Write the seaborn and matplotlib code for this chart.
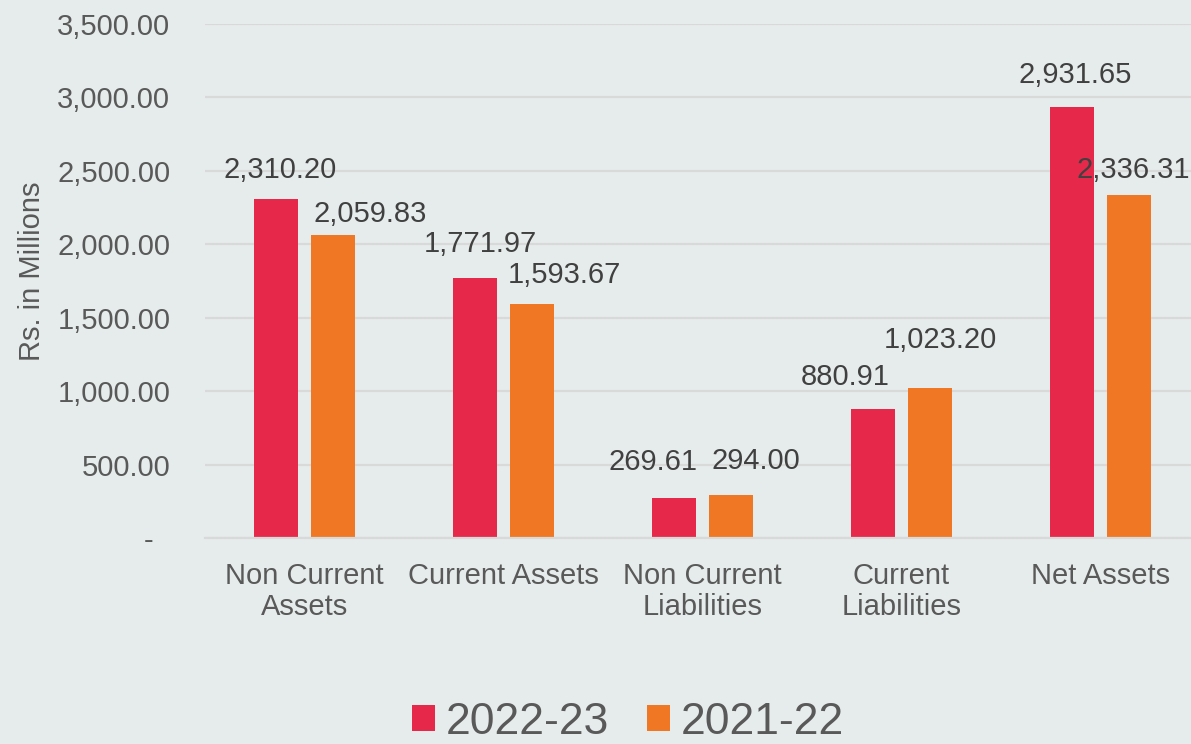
import matplotlib
matplotlib.use("Agg")
import matplotlib.pyplot as plt
import seaborn as sns
import pandas as pd
from matplotlib.patches import Patch
from matplotlib.ticker import FuncFormatter

categories = ["Non Current\nAssets", "Current Assets", "Non Current\nLiabilities",
              "Current\nLiabilities", "Net Assets"]
series_names = ["2022-23", "2021-22"]
values_2022_23 = [2310.20, 1771.97, 269.61, 880.91, 2931.65]
values_2021_22 = [2059.83, 1593.67, 294.00, 1023.20, 2336.31]
y_ticks = [0, 500, 1000, 1500, 2000, 2500, 3000, 3500]

colors = ["#E6294B", "#F07723"]
bg = "#E6ECEC"
tick_color = "#595959"
label_color = "#404040"

# label offsets in pixels (dx, dy) relative to bar top center
offsets_2022_23 = [(4, 29), (5, 34), (-21, 36), (-28, 32), (3, 32)]
offsets_2021_22 = [(37, 21), (33, 29), (25, 34), (11, 48), (4, 25)]

df = pd.DataFrame({
    "category": categories * 2,
    "year": [series_names[0]] * 5 + [series_names[1]] * 5,
    "value": values_2022_23 + values_2021_22,
})

sns.set_theme(style="white")
plt.rcParams["font.family"] = ["Liberation Sans", "DejaVu Sans"]

fig = plt.figure(figsize=(11.91, 7.44), dpi=100, facecolor=bg)
ax = fig.add_axes([205 / 1191, (744 - 538) / 744, 995 / 1191, 514 / 744])
ax.set_facecolor(bg)

sns.barplot(data=df, x="category", y="value", hue="year", order=categories,
            hue_order=series_names, palette=colors, width=0.57, gap=0.22,
            linewidth=0, saturation=1, ax=ax, legend=False)

ax.set_xlim(-0.5, 4.5)
ax.set_ylim(0, 3500)
ax.set_yticks(y_ticks)
ax.yaxis.set_major_formatter(FuncFormatter(lambda v, p: "-  " if v == 0 else f"{v:,.2f}"))
ax.grid(axis="y", color="#D9D9D9", linewidth=1.6)
ax.set_axisbelow(True)
for s in ["top", "right", "left"]:
    ax.spines[s].set_visible(False)
ax.spines["bottom"].set_color("#D9D9D9")
ax.spines["bottom"].set_linewidth(1.6)
ax.tick_params(axis="y", length=0, pad=25, labelsize=21, labelcolor=tick_color)
ax.tick_params(axis="x", length=0, pad=17.5, labelsize=21, labelcolor=tick_color)
for t in ax.get_xticklabels():
    t.set_linespacing(1.1)
ax.set_xlabel("")
ax.set_ylabel("Rs. in Millions", fontsize=21, color=tick_color)
ax.yaxis.set_label_coords(-0.160, 0.519)

all_offsets = [offsets_2022_23, offsets_2021_22]
all_values = [values_2022_23, values_2021_22]
for cont, offs, vals in zip(ax.containers, all_offsets, all_values):
    for bar, (dx, dy), v in zip(cont.patches, offs, vals):
        x = bar.get_x() + bar.get_width() / 2
        ax.annotate(f"{v:,.2f}", xy=(x, bar.get_height()), xytext=(dx, dy),
                    textcoords="offset pixels", ha="center", va="center",
                    fontsize=21, color=label_color, annotation_clip=False)

handles = [Patch(facecolor=c, edgecolor="none") for c in colors]
fig.legend(handles, series_names, loc="center", bbox_to_anchor=(628 / 1191, 22 / 744),
           ncol=2, frameon=False, fontsize=32, labelcolor=tick_color,
           handlelength=0.52, handleheight=0.52, handletextpad=0.25,
           columnspacing=0.85, borderpad=0)

fig.savefig("out.png", dpi=100, facecolor=bg)
